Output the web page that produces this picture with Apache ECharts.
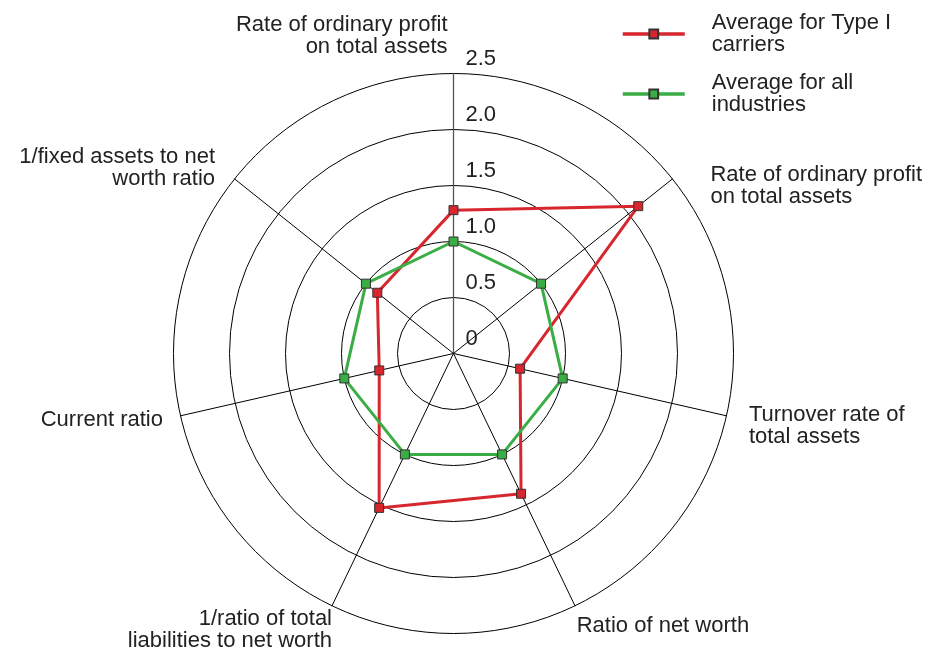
<!DOCTYPE html>
<html>
<head>
<meta charset="utf-8">
<script src="https://cdn.jsdelivr.net/npm/echarts@6/dist/echarts.min.js"></script>
<style>
  html, body { margin: 0; background: #fff; }
  #chart { width: 936px; height: 648px; }
</style>
</head>
<body>
<div id="chart"></div>
<script>
// axes listed the way echarts lays them out: top first, then counter-clockwise
const categories = [
  'Rate of ordinary profit\non total assets',
  '1/fixed assets to net\nworth ratio',
  'Current ratio',
  '1/ratio of total\nliabilities to net worth',
  'Ratio of net worth',
  'Turnover rate of\ntotal assets',
  'Rate of ordinary profit\non total assets',
]
const typeOneValues = [1.28, 0.87, 0.68, 1.53, 1.39, 0.61, 2.11]
const allIndustryValues = [1.0, 1.0, 1.0, 1.0, 1.0, 1.0, 1.0]
const tickLabels = ['0', '0.5', '1.0', '1.5', '2.0', '2.5']
const seriesNames = ['Average for Type I\ncarriers', 'Average for all\nindustries']
const maxValue = 2.5

const RED = '#d7262e'
const GREEN = '#3aad45'
const TEXT = '#222'
const FONT = 'Liberation Sans, Arial, sans-serif'

// per-axis tweaks of the name spot: gap = distance from the rim,
// left = padding in px, down = shift down in px (spacer line on top)
const nameNudge = [
  { gap: 16 },
  { gap: 25, down: 5, align: 'right' },
  null,
  { gap: 0, down: 24, align: 'right' },
  { gap: 4, down: 17, align: 'left' },
  { gap: 23, down: 5, align: 'left' },
  { left: 24, down: 18, align: 'left' },
]

const nameRich = {}
function richName(name, i) {
  const n = nameNudge[i]
  if (!n || !n.align) return name
  const lines = name.split('\n').map((s, j) => {
    const key = 'n' + i + 'l' + j
    nameRich[key] = {
      fontSize: 22,
      fontFamily: FONT,
      color: TEXT,
      lineHeight: 22,
      align: n.align,
      padding: [0, 0, 0, n.left || 0],
    }
    return '{' + key + '|' + s + '}'
  })
  if (n.down) {
    nameRich['sp' + i] = { fontSize: 6, height: n.down * 2, lineHeight: n.down * 2 }
    lines.unshift('{sp' + i + '| }')
  }
  return lines.join('\n')
}

const indicator = categories.map((name, i) => {
  const item = { name: richName(name, i), min: 0, max: maxValue }
  if (nameNudge[i] && nameNudge[i].gap != null) item.nameGap = nameNudge[i].gap
  if (i === 0) {
    // only the top axis carries the scale; its name sits right-aligned left of it
    item.axisLabel = { show: true }
    item.axisLine = { lineStyle: { color: '#555', width: 1.3 } }
    item.nameTextStyle = { align: 'right', padding: [0, 6, 0, 0] }
    item.nameMoveOverlap = false
  }
  return item
})

const chart = echarts.init(document.getElementById('chart'))
chart.setOption({
  animation: false,
  // hidden grid, only there so the legend can borrow line-series icons
  grid: { left: 0, top: 0, width: 10, height: 10, show: false },
  xAxis: { show: false, type: 'value' },
  yAxis: { show: false, type: 'value' },
  legend: {
    orient: 'vertical',
    left: 621,
    top: 12,
    padding: 0,
    itemWidth: 62,
    itemHeight: 11,
    itemGap: 16,
    lineStyle: { width: 3.5 },
    textStyle: {
      fontSize: 22,
      fontFamily: FONT,
      color: TEXT,
      lineHeight: 22,
      padding: [0, 0, 0, 22],
    },
    data: seriesNames,
  },
  radar: {
    center: [453.5, 353.5],
    radius: 280,
    shape: 'circle',
    splitNumber: 5,
    nameGap: 18,
    axisName: {
      color: TEXT,
      fontSize: 22,
      fontFamily: FONT,
      lineHeight: 22,
      rich: nameRich,
    },
    axisLine: { lineStyle: { color: '#000', width: 1 } },
    splitLine: { lineStyle: { color: '#000', width: 1 } },
    splitArea: { show: false },
    axisTick: { show: false },
    axisLabel: {
      show: false,
      fontSize: 22,
      fontFamily: FONT,
      color: TEXT,
      margin: -12,
      align: 'left',
      verticalAlign: 'bottom',
      padding: [0, 0, 4, 0],
      formatter: (v, idx) => tickLabels[idx],
    },
    indicator,
  },
  series: [
    {
      type: 'line',
      name: seriesNames[0],
      symbol: 'rect',
      data: [],
      lineStyle: { color: RED, width: 3.5 },
      itemStyle: { color: RED, borderColor: '#333', borderWidth: 1 },
    },
    {
      type: 'line',
      name: seriesNames[1],
      symbol: 'rect',
      data: [],
      lineStyle: { color: GREEN, width: 3.5 },
      itemStyle: { color: GREEN, borderColor: '#333', borderWidth: 1 },
    },
    {
      type: 'radar',
      symbol: 'rect',
      symbolSize: 9,
      data: [
        {
          name: seriesNames[0],
          value: typeOneValues,
          lineStyle: { color: RED, width: 3 },
          itemStyle: { color: RED, borderColor: '#333', borderWidth: 1 },
        },
        {
          name: seriesNames[1],
          value: allIndustryValues,
          lineStyle: { color: GREEN, width: 3 },
          itemStyle: { color: GREEN, borderColor: '#333', borderWidth: 1 },
        },
      ],
    },
  ],
})
</script>
</body>
</html>
